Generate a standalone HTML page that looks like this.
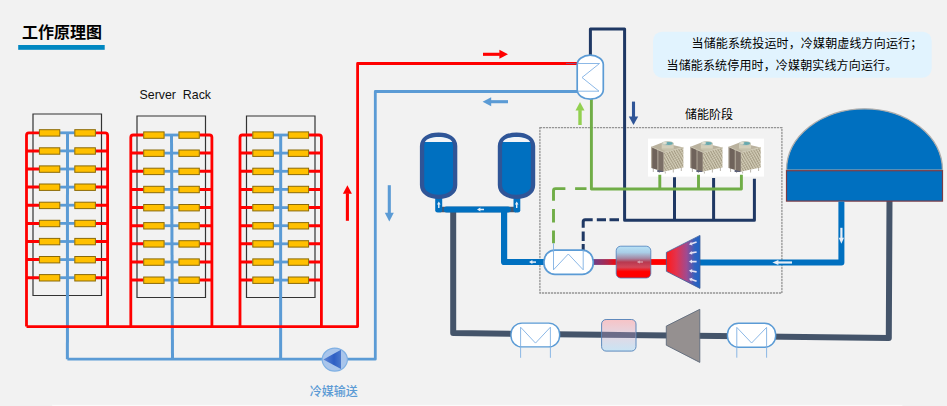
<!DOCTYPE html>
<html lang="zh-CN">
<head>
<meta charset="utf-8">
<title>工作原理图</title>
<style>
html,body{margin:0;padding:0;background:#f2f2f2;}
body{width:947px;height:406px;overflow:hidden;position:relative;font-family:"Liberation Sans","Noto Sans CJK SC",sans-serif;}
svg{position:absolute;left:0;top:0;display:block;}
text{font-family:"Liberation Sans","Noto Sans CJK SC",sans-serif;}
</style>
</head>
<body>
<svg width="947" height="406" viewBox="0 0 947 406">
<defs>
<linearGradient id="gHot" x1="0" y1="0" x2="0" y2="1">
<stop offset="0" stop-color="#b9e3f7"/><stop offset="0.2" stop-color="#a9cde6"/><stop offset="0.38" stop-color="#a58aa5"/><stop offset="0.5" stop-color="#b8384f"/><stop offset="0.66" stop-color="#d2485a"/><stop offset="0.8" stop-color="#ff0000"/><stop offset="1" stop-color="#ff0000"/>
</linearGradient>
<linearGradient id="gCool" x1="0" y1="0" x2="0" y2="1">
<stop offset="0" stop-color="#f7c3c6"/><stop offset="0.5" stop-color="#e3d8e4"/><stop offset="1" stop-color="#c9e4f4"/>
</linearGradient>
<linearGradient id="gTrap" x1="0" y1="0" x2="1" y2="0">
<stop offset="0" stop-color="#ff1a1a"/><stop offset="0.3" stop-color="#e2334f"/><stop offset="0.6" stop-color="#a04a90"/><stop offset="0.85" stop-color="#2f62c0"/><stop offset="1" stop-color="#1f63c4"/>
</linearGradient>
<linearGradient id="gRedPipe" x1="0" y1="0" x2="1" y2="0">
<stop offset="0" stop-color="#6a3f8a"/><stop offset="0.2" stop-color="#b0264a"/><stop offset="0.33" stop-color="#ff0000"/><stop offset="1" stop-color="#ff0000"/>
</linearGradient>
<linearGradient id="gPump" x1="0" y1="0" x2="1" y2="0">
<stop offset="0" stop-color="#5b85d6"/><stop offset="0.6" stop-color="#2f5fc4"/><stop offset="1" stop-color="#4a78cc"/>
</linearGradient>
<linearGradient id="gRack" x1="0" y1="0" x2="0" y2="1">
<stop offset="0" stop-color="#777"/><stop offset="1" stop-color="#333"/>
</linearGradient>
<pattern id="hatch" width="2.4" height="2.4" patternUnits="userSpaceOnUse" patternTransform="rotate(-30)">
<rect width="2.4" height="2.4" fill="#d3cdb7"/><rect width="0.9" height="2.4" fill="#a0977f"/><rect width="2.4" height="0.5" fill="#b3ab95"/>
</pattern>
</defs>

<text x="22" y="37.6" font-size="16" font-weight="bold" fill="#000">工作原理图</text>
<rect x="18.2" y="45" width="86.5" height="4.8" fill="#0087c1"/>
<text x="139.6" y="98.9" font-size="12.9" fill="#111" textLength="71.4" lengthAdjust="spacingAndGlyphs" xml:space="preserve">Server  Rack</text>
<path d="M33 114 H101.5 V295.5 H33 Z" fill="none" stroke="#333" stroke-width="1.2"/>
<path d="M67.5 132.8 L67.4 359.2" stroke="#5b9bd5" stroke-width="3" fill="none"/>
<path d="M60.1 132.8 H74.5" stroke="#5b9bd5" stroke-width="2.8" fill="none"/>
<path d="M60.1 150.9 H74.5" stroke="#5b9bd5" stroke-width="2.8" fill="none"/>
<path d="M60.1 169.0 H74.5" stroke="#5b9bd5" stroke-width="2.8" fill="none"/>
<path d="M60.1 187.1 H74.5" stroke="#5b9bd5" stroke-width="2.8" fill="none"/>
<path d="M60.1 205.2 H74.5" stroke="#5b9bd5" stroke-width="2.8" fill="none"/>
<path d="M60.1 223.4 H74.5" stroke="#5b9bd5" stroke-width="2.8" fill="none"/>
<path d="M60.1 241.5 H74.5" stroke="#5b9bd5" stroke-width="2.8" fill="none"/>
<path d="M60.1 259.6 H74.5" stroke="#5b9bd5" stroke-width="2.8" fill="none"/>
<path d="M60.1 277.7 H74.5" stroke="#5b9bd5" stroke-width="2.8" fill="none"/>
<path d="M26.5 150.9 H39.1 M95.7 150.9 H107.6 M26.5 169.0 H39.1 M95.7 169.0 H107.6 M26.5 187.1 H39.1 M95.7 187.1 H107.6 M26.5 205.2 H39.1 M95.7 205.2 H107.6 M26.5 223.4 H39.1 M95.7 223.4 H107.6 M26.5 241.5 H39.1 M95.7 241.5 H107.6 M26.5 259.6 H39.1 M95.7 259.6 H107.6 M26.5 277.7 H39.1 M95.7 277.7 H107.6 " stroke="#ff0000" stroke-width="3" fill="none"/>
<path d="M39.1 132.8 H28.9 Q26.5 132.8 26.5 135.2 V326.6 M95.7 132.8 H105.19999999999999 Q107.6 132.8 107.6 135.2 V326.6" stroke="#ff0000" stroke-width="2.8" fill="none"/>
<rect x="39.4" y="129.7" width="20.4" height="6.4" fill="#ffc000" stroke="#8a6a08" stroke-width="1"/>
<rect x="74.8" y="129.7" width="20.6" height="6.4" fill="#ffc000" stroke="#8a6a08" stroke-width="1"/>
<rect x="39.4" y="147.8" width="20.4" height="6.4" fill="#ffc000" stroke="#8a6a08" stroke-width="1"/>
<rect x="74.8" y="147.8" width="20.6" height="6.4" fill="#ffc000" stroke="#8a6a08" stroke-width="1"/>
<rect x="39.4" y="165.9" width="20.4" height="6.4" fill="#ffc000" stroke="#8a6a08" stroke-width="1"/>
<rect x="74.8" y="165.9" width="20.6" height="6.4" fill="#ffc000" stroke="#8a6a08" stroke-width="1"/>
<rect x="39.4" y="184.0" width="20.4" height="6.4" fill="#ffc000" stroke="#8a6a08" stroke-width="1"/>
<rect x="74.8" y="184.0" width="20.6" height="6.4" fill="#ffc000" stroke="#8a6a08" stroke-width="1"/>
<rect x="39.4" y="202.2" width="20.4" height="6.4" fill="#ffc000" stroke="#8a6a08" stroke-width="1"/>
<rect x="74.8" y="202.2" width="20.6" height="6.4" fill="#ffc000" stroke="#8a6a08" stroke-width="1"/>
<rect x="39.4" y="220.3" width="20.4" height="6.4" fill="#ffc000" stroke="#8a6a08" stroke-width="1"/>
<rect x="74.8" y="220.3" width="20.6" height="6.4" fill="#ffc000" stroke="#8a6a08" stroke-width="1"/>
<rect x="39.4" y="238.4" width="20.4" height="6.4" fill="#ffc000" stroke="#8a6a08" stroke-width="1"/>
<rect x="74.8" y="238.4" width="20.6" height="6.4" fill="#ffc000" stroke="#8a6a08" stroke-width="1"/>
<rect x="39.4" y="256.5" width="20.4" height="6.4" fill="#ffc000" stroke="#8a6a08" stroke-width="1"/>
<rect x="74.8" y="256.5" width="20.6" height="6.4" fill="#ffc000" stroke="#8a6a08" stroke-width="1"/>
<rect x="39.4" y="274.6" width="20.4" height="6.4" fill="#ffc000" stroke="#8a6a08" stroke-width="1"/>
<rect x="74.8" y="274.6" width="20.6" height="6.4" fill="#ffc000" stroke="#8a6a08" stroke-width="1"/>
<path d="M137 116 H205.5 V297.5 H137 Z" fill="none" stroke="#333" stroke-width="1.2"/>
<path d="M171.5 135.0 L172.5 359.2" stroke="#5b9bd5" stroke-width="3" fill="none"/>
<path d="M164.4 135.0 H178.6" stroke="#5b9bd5" stroke-width="2.8" fill="none"/>
<path d="M164.4 153.1 H178.6" stroke="#5b9bd5" stroke-width="2.8" fill="none"/>
<path d="M164.4 171.3 H178.6" stroke="#5b9bd5" stroke-width="2.8" fill="none"/>
<path d="M164.4 189.4 H178.6" stroke="#5b9bd5" stroke-width="2.8" fill="none"/>
<path d="M164.4 207.6 H178.6" stroke="#5b9bd5" stroke-width="2.8" fill="none"/>
<path d="M164.4 225.7 H178.6" stroke="#5b9bd5" stroke-width="2.8" fill="none"/>
<path d="M164.4 243.8 H178.6" stroke="#5b9bd5" stroke-width="2.8" fill="none"/>
<path d="M164.4 262.0 H178.6" stroke="#5b9bd5" stroke-width="2.8" fill="none"/>
<path d="M164.4 280.1 H178.6" stroke="#5b9bd5" stroke-width="2.8" fill="none"/>
<path d="M130.8 153.1 H143.4 M199.6 153.1 H211.9 M130.8 171.3 H143.4 M199.6 171.3 H211.9 M130.8 189.4 H143.4 M199.6 189.4 H211.9 M130.8 207.6 H143.4 M199.6 207.6 H211.9 M130.8 225.7 H143.4 M199.6 225.7 H211.9 M130.8 243.8 H143.4 M199.6 243.8 H211.9 M130.8 262.0 H143.4 M199.6 262.0 H211.9 M130.8 280.1 H143.4 M199.6 280.1 H211.9 " stroke="#ff0000" stroke-width="3" fill="none"/>
<path d="M143.4 135.0 H133.20000000000002 Q130.8 135.0 130.8 137.4 V326.6 M199.6 135.0 H209.5 Q211.9 135.0 211.9 137.4 V326.6" stroke="#ff0000" stroke-width="2.8" fill="none"/>
<rect x="143.7" y="131.9" width="20.4" height="6.4" fill="#ffc000" stroke="#8a6a08" stroke-width="1"/>
<rect x="178.9" y="131.9" width="20.4" height="6.4" fill="#ffc000" stroke="#8a6a08" stroke-width="1"/>
<rect x="143.7" y="150.0" width="20.4" height="6.4" fill="#ffc000" stroke="#8a6a08" stroke-width="1"/>
<rect x="178.9" y="150.0" width="20.4" height="6.4" fill="#ffc000" stroke="#8a6a08" stroke-width="1"/>
<rect x="143.7" y="168.2" width="20.4" height="6.4" fill="#ffc000" stroke="#8a6a08" stroke-width="1"/>
<rect x="178.9" y="168.2" width="20.4" height="6.4" fill="#ffc000" stroke="#8a6a08" stroke-width="1"/>
<rect x="143.7" y="186.3" width="20.4" height="6.4" fill="#ffc000" stroke="#8a6a08" stroke-width="1"/>
<rect x="178.9" y="186.3" width="20.4" height="6.4" fill="#ffc000" stroke="#8a6a08" stroke-width="1"/>
<rect x="143.7" y="204.5" width="20.4" height="6.4" fill="#ffc000" stroke="#8a6a08" stroke-width="1"/>
<rect x="178.9" y="204.5" width="20.4" height="6.4" fill="#ffc000" stroke="#8a6a08" stroke-width="1"/>
<rect x="143.7" y="222.6" width="20.4" height="6.4" fill="#ffc000" stroke="#8a6a08" stroke-width="1"/>
<rect x="178.9" y="222.6" width="20.4" height="6.4" fill="#ffc000" stroke="#8a6a08" stroke-width="1"/>
<rect x="143.7" y="240.7" width="20.4" height="6.4" fill="#ffc000" stroke="#8a6a08" stroke-width="1"/>
<rect x="178.9" y="240.7" width="20.4" height="6.4" fill="#ffc000" stroke="#8a6a08" stroke-width="1"/>
<rect x="143.7" y="258.9" width="20.4" height="6.4" fill="#ffc000" stroke="#8a6a08" stroke-width="1"/>
<rect x="178.9" y="258.9" width="20.4" height="6.4" fill="#ffc000" stroke="#8a6a08" stroke-width="1"/>
<rect x="143.7" y="277.0" width="20.4" height="6.4" fill="#ffc000" stroke="#8a6a08" stroke-width="1"/>
<rect x="178.9" y="277.0" width="20.4" height="6.4" fill="#ffc000" stroke="#8a6a08" stroke-width="1"/>
<path d="M246.5 116 H315 V297.5 H246.5 Z" fill="none" stroke="#333" stroke-width="1.2"/>
<path d="M280.7 135.0 L280.6 359.2" stroke="#5b9bd5" stroke-width="3" fill="none"/>
<path d="M273.6 135.0 H288" stroke="#5b9bd5" stroke-width="2.8" fill="none"/>
<path d="M273.6 153.1 H288" stroke="#5b9bd5" stroke-width="2.8" fill="none"/>
<path d="M273.6 171.3 H288" stroke="#5b9bd5" stroke-width="2.8" fill="none"/>
<path d="M273.6 189.4 H288" stroke="#5b9bd5" stroke-width="2.8" fill="none"/>
<path d="M273.6 207.6 H288" stroke="#5b9bd5" stroke-width="2.8" fill="none"/>
<path d="M273.6 225.7 H288" stroke="#5b9bd5" stroke-width="2.8" fill="none"/>
<path d="M273.6 243.8 H288" stroke="#5b9bd5" stroke-width="2.8" fill="none"/>
<path d="M273.6 262.0 H288" stroke="#5b9bd5" stroke-width="2.8" fill="none"/>
<path d="M273.6 280.1 H288" stroke="#5b9bd5" stroke-width="2.8" fill="none"/>
<path d="M240 153.1 H252.5 M308.9 153.1 H321.4 M240 171.3 H252.5 M308.9 171.3 H321.4 M240 189.4 H252.5 M308.9 189.4 H321.4 M240 207.6 H252.5 M308.9 207.6 H321.4 M240 225.7 H252.5 M308.9 225.7 H321.4 M240 243.8 H252.5 M308.9 243.8 H321.4 M240 262.0 H252.5 M308.9 262.0 H321.4 M240 280.1 H252.5 M308.9 280.1 H321.4 " stroke="#ff0000" stroke-width="3" fill="none"/>
<path d="M252.5 135.0 H242.4 Q240 135.0 240 137.4 V326.6 M308.9 135.0 H319.0 Q321.4 135.0 321.4 137.4 V326.6" stroke="#ff0000" stroke-width="2.8" fill="none"/>
<rect x="252.8" y="131.9" width="20.5" height="6.4" fill="#ffc000" stroke="#8a6a08" stroke-width="1"/>
<rect x="288.3" y="131.9" width="20.3" height="6.4" fill="#ffc000" stroke="#8a6a08" stroke-width="1"/>
<rect x="252.8" y="150.0" width="20.5" height="6.4" fill="#ffc000" stroke="#8a6a08" stroke-width="1"/>
<rect x="288.3" y="150.0" width="20.3" height="6.4" fill="#ffc000" stroke="#8a6a08" stroke-width="1"/>
<rect x="252.8" y="168.2" width="20.5" height="6.4" fill="#ffc000" stroke="#8a6a08" stroke-width="1"/>
<rect x="288.3" y="168.2" width="20.3" height="6.4" fill="#ffc000" stroke="#8a6a08" stroke-width="1"/>
<rect x="252.8" y="186.3" width="20.5" height="6.4" fill="#ffc000" stroke="#8a6a08" stroke-width="1"/>
<rect x="288.3" y="186.3" width="20.3" height="6.4" fill="#ffc000" stroke="#8a6a08" stroke-width="1"/>
<rect x="252.8" y="204.5" width="20.5" height="6.4" fill="#ffc000" stroke="#8a6a08" stroke-width="1"/>
<rect x="288.3" y="204.5" width="20.3" height="6.4" fill="#ffc000" stroke="#8a6a08" stroke-width="1"/>
<rect x="252.8" y="222.6" width="20.5" height="6.4" fill="#ffc000" stroke="#8a6a08" stroke-width="1"/>
<rect x="288.3" y="222.6" width="20.3" height="6.4" fill="#ffc000" stroke="#8a6a08" stroke-width="1"/>
<rect x="252.8" y="240.7" width="20.5" height="6.4" fill="#ffc000" stroke="#8a6a08" stroke-width="1"/>
<rect x="288.3" y="240.7" width="20.3" height="6.4" fill="#ffc000" stroke="#8a6a08" stroke-width="1"/>
<rect x="252.8" y="258.9" width="20.5" height="6.4" fill="#ffc000" stroke="#8a6a08" stroke-width="1"/>
<rect x="288.3" y="258.9" width="20.3" height="6.4" fill="#ffc000" stroke="#8a6a08" stroke-width="1"/>
<rect x="252.8" y="277.0" width="20.5" height="6.4" fill="#ffc000" stroke="#8a6a08" stroke-width="1"/>
<rect x="288.3" y="277.0" width="20.3" height="6.4" fill="#ffc000" stroke="#8a6a08" stroke-width="1"/>
<path d="M26.5 326.6 H357.6 V63.5 H578" stroke="#ff0000" stroke-width="2.8" fill="none" stroke-linejoin="round"/>
<path d="M67.4 359.2 H375.3 V91.5 H578" stroke="#5b9bd5" stroke-width="2.8" fill="none" stroke-linejoin="round"/>
<path d="M483.0 54.3 L499.9 54.3" stroke="#ff0000" stroke-width="3.1" fill="none"/>
<polygon points="508.0,54.3 499.4,58.8 499.4,49.8" fill="#ff0000"/>
<path d="M508.0 101.7 L490.7 101.7" stroke="#5b9bd5" stroke-width="3.1" fill="none"/>
<polygon points="482.6,101.7 491.2,97.2 491.2,106.2" fill="#5b9bd5"/>
<path d="M347.4 220.8 L347.4 193.3" stroke="#ff0000" stroke-width="3.1" fill="none"/>
<polygon points="347.4,185.2 351.9,193.8 342.9,193.8" fill="#ff0000"/>
<path d="M389.3 185.2 L389.3 213.3" stroke="#5b9bd5" stroke-width="3.1" fill="none"/>
<polygon points="389.3,221.4 384.8,212.8 393.8,212.8" fill="#5b9bd5"/>
<path d="M580.0 125.0 L580.0 110.1" stroke="#92d050" stroke-width="3.4" fill="none"/>
<polygon points="580.0,102.0 584.5,110.6 575.5,110.6" fill="#92d050"/>
<path d="M633.5 101.6 L633.5 117.1" stroke="#2f5597" stroke-width="3.1" fill="none"/>
<polygon points="633.5,125.0 628.8,116.6 638.2,116.6" fill="#2f5597"/>
<ellipse cx="334.8" cy="359.6" rx="12.6" ry="11.5" fill="#a9c5eb" stroke="#7fb0e3" stroke-width="1.2"/>
<polygon points="323.4,359.4 341,349.7 341,369" fill="url(#gPump)"/>
<text x="309.7" y="396.4" font-size="12" font-weight="500" fill="#5b9bd5">冷媒输送</text>
<rect x="539.9" y="127.7" width="242" height="165.3" fill="none" stroke="#959595" stroke-width="1.3" stroke-dasharray="2.2 0.8"/>
<text x="685" y="119" font-size="12" fill="#000">储能阶段</text>
<rect x="653" y="31.7" width="278.7" height="46" rx="9" ry="9" fill="#e1f3fe"/>
<text x="691.5" y="48" font-size="12" letter-spacing="0.15" fill="#000">当储能系统投运时，冷媒朝虚线方向运行；</text>
<text x="666.5" y="69.8" font-size="12" letter-spacing="0.15" fill="#000">当储能系统停用时，冷媒朝实线方向运行。</text>
<path d="M453.2 210 V333.1 L888.8 338 L889.5 200" stroke="#44546a" stroke-width="6" fill="none" stroke-linejoin="round"/>
<rect x="648" y="138.6" width="116" height="38" fill="#ffffff"/>
<g transform="translate(651.3 141)">
<path d="M2 27 V31 M8 29.5 V32 M14 30.5 V32.5 M22 28.5 V31.5 M30 26.5 V30" stroke="#b9b6ae" stroke-width="1"/>
<rect x="6" y="29" width="6" height="2" fill="#5a5f78"/>
<polygon points="0.1,5.8 11,1.5 32.1,6.4 12.6,11.3" fill="#bab29e"/>
<polygon points="0.1,5.8 6.6,8.5 6.6,29 0.1,27" fill="#6f635b"/>
<polygon points="6.6,8.5 12.6,11.3 12.6,30.5 6.6,29" fill="#7b6f66"/>
<path d="M0.4 6 V27 M6.6 8.5 V29 M12.6 11.3 V30.5" stroke="#b5ad9c" stroke-width="0.9" fill="none"/>
<polygon points="12.6,11.3 32.1,6.4 32.1,26.5 12.6,30.5" fill="url(#hatch)"/>
<path d="M0.1 5.8 L12.6 11.3 L32.1 6.4" stroke="#cfc9b6" stroke-width="0.9" fill="none"/>
<ellipse cx="16.4" cy="7.4" rx="6" ry="2.6" fill="#c6c1ab"/>
<rect x="10.4" y="2.6" width="12" height="4.8" fill="#d3ceb9"/>
<ellipse cx="16.4" cy="2.6" rx="6" ry="2.5" fill="#c4c9bc"/>
<ellipse cx="17.6" cy="2.5" rx="3.8" ry="1.4" fill="#67a9ae"/>
<ellipse cx="13.6" cy="2" rx="2.2" ry="1" fill="#e2dfd0"/>
</g>
<g transform="translate(690.4 141)">
<path d="M2 27 V31 M8 29.5 V32 M14 30.5 V32.5 M22 28.5 V31.5 M30 26.5 V30" stroke="#b9b6ae" stroke-width="1"/>
<rect x="6" y="29" width="6" height="2" fill="#5a5f78"/>
<polygon points="0.1,5.8 11,1.5 32.1,6.4 12.6,11.3" fill="#bab29e"/>
<polygon points="0.1,5.8 6.6,8.5 6.6,29 0.1,27" fill="#6f635b"/>
<polygon points="6.6,8.5 12.6,11.3 12.6,30.5 6.6,29" fill="#7b6f66"/>
<path d="M0.4 6 V27 M6.6 8.5 V29 M12.6 11.3 V30.5" stroke="#b5ad9c" stroke-width="0.9" fill="none"/>
<polygon points="12.6,11.3 32.1,6.4 32.1,26.5 12.6,30.5" fill="url(#hatch)"/>
<path d="M0.1 5.8 L12.6 11.3 L32.1 6.4" stroke="#cfc9b6" stroke-width="0.9" fill="none"/>
<ellipse cx="16.4" cy="7.4" rx="6" ry="2.6" fill="#c6c1ab"/>
<rect x="10.4" y="2.6" width="12" height="4.8" fill="#d3ceb9"/>
<ellipse cx="16.4" cy="2.6" rx="6" ry="2.5" fill="#c4c9bc"/>
<ellipse cx="17.6" cy="2.5" rx="3.8" ry="1.4" fill="#67a9ae"/>
<ellipse cx="13.6" cy="2" rx="2.2" ry="1" fill="#e2dfd0"/>
</g>
<g transform="translate(728.6 141)">
<path d="M2 27 V31 M8 29.5 V32 M14 30.5 V32.5 M22 28.5 V31.5 M30 26.5 V30" stroke="#b9b6ae" stroke-width="1"/>
<rect x="6" y="29" width="6" height="2" fill="#5a5f78"/>
<polygon points="0.1,5.8 11,1.5 32.1,6.4 12.6,11.3" fill="#bab29e"/>
<polygon points="0.1,5.8 6.6,8.5 6.6,29 0.1,27" fill="#6f635b"/>
<polygon points="6.6,8.5 12.6,11.3 12.6,30.5 6.6,29" fill="#7b6f66"/>
<path d="M0.4 6 V27 M6.6 8.5 V29 M12.6 11.3 V30.5" stroke="#b5ad9c" stroke-width="0.9" fill="none"/>
<polygon points="12.6,11.3 32.1,6.4 32.1,26.5 12.6,30.5" fill="url(#hatch)"/>
<path d="M0.1 5.8 L12.6 11.3 L32.1 6.4" stroke="#cfc9b6" stroke-width="0.9" fill="none"/>
<ellipse cx="16.4" cy="7.4" rx="6" ry="2.6" fill="#c6c1ab"/>
<rect x="10.4" y="2.6" width="12" height="4.8" fill="#d3ceb9"/>
<ellipse cx="16.4" cy="2.6" rx="6" ry="2.5" fill="#c4c9bc"/>
<ellipse cx="17.6" cy="2.5" rx="3.8" ry="1.4" fill="#67a9ae"/>
<ellipse cx="13.6" cy="2" rx="2.2" ry="1" fill="#e2dfd0"/>
</g>
<path d="M590.4 56 V29 H624.6 V220.3 H754.4 V178.8" stroke="#1f3864" stroke-width="3" fill="none" stroke-linejoin="round"/>
<path d="M674.5 177.2 V220.3 M713.6 178 V220.3" stroke="#1f3864" stroke-width="3" fill="none"/>
<path d="M619 219.8 H609.5 M606 219.8 H596.8 M592.7 219.8 H585.2 Q583.2 219.8 583.2 221.8 V227.8 M583.2 231.4 V240.9 M583.2 244.1 V250.5" stroke="#1f3864" stroke-width="3" fill="none"/>
<path d="M591.4 99 V189 H741.4 V174.8" stroke="#70ad47" stroke-width="2.9" fill="none" stroke-linejoin="round"/>
<path d="M659.8 174.8 V189 M698.5 174.8 V189" stroke="#70ad47" stroke-width="2.9" fill="none"/>
<path d="M586.5 188.6 H575.1 M565.4 188.6 H555.5 Q553.5 188.6 553.5 190.6 V200.7 M553.5 208.9 V222.4 M553.5 230.5 V243.3" stroke="#70ad47" stroke-width="2.9" fill="none"/>
<path d="M440 209.5 H516" stroke="#46566e" stroke-width="5.4" fill="none"/>
<rect x="435.2" y="196" width="7" height="16.6" rx="2.4" fill="#0070c0"/>
<rect x="513.5" y="196" width="6.8" height="16.6" rx="2.4" fill="#0070c0"/>
<path d="M446.6 209.5 H508" stroke="#0070c0" stroke-width="5.8" fill="none" stroke-linecap="round"/>
<path d="M504.1 209.4 V262 H545" stroke="#0070c0" stroke-width="6.2" fill="none" stroke-linejoin="round"/>
<path d="M422.05 146 C422.05 139,428.65 134.6,438.60 134.6 C448.55 134.6,455.15 139,455.15 146 V185 C455.15 192,448.55 196.9,438.60 196.9 C428.65 196.9,422.05 192,422.05 185 Z" fill="#0070c0" stroke="#2f5597" stroke-width="4.3"/>
<path d="M424.95 142 C427.55 135.2,449.65 135.2,452.25 142 Z" fill="#f2f4f7"/>
<path d="M499.95 146 C499.95 139,506.55 134.6,516.50 134.6 C526.45 134.6,533.05 139,533.05 146 V185 C533.05 192,526.45 196.9,516.50 196.9 C506.55 196.9,499.95 192,499.95 185 Z" fill="#0070c0" stroke="#2f5597" stroke-width="4.3"/>
<path d="M502.85 142 C505.45 135.2,527.55 135.2,530.15 142 Z" fill="#f2f4f7"/>
<path d="M786.5 170.2 A78 61.4 0 0 1 942.5 170.2 Z" fill="#0070c0" stroke="#adadad" stroke-width="1.3"/>
<rect x="786.5" y="170.7" width="156" height="30.4" fill="#0070c0" stroke="#7b3b45" stroke-width="1.2"/>
<path d="M841.4 201.5 V262.4 H699" stroke="#0070c0" stroke-width="6" fill="none" stroke-linejoin="round"/>
<rect x="593" y="259.1" width="74" height="5.8" fill="url(#gRedPipe)"/>
<rect x="616.2" y="246.2" width="34.6" height="31.8" rx="4.5" fill="url(#gHot)" stroke="#4a7ebb" stroke-width="0.8"/>
<polygon points="666.4,252.4 700,235.4 700,288.4 666.4,271.3" fill="url(#gTrap)" stroke="#3f5f9a" stroke-width="0.8"/>
<path d="M577.2 64.6 A13.05 9.4 0 0 1 603.3 64.6 V89.8 A13.05 9.4 0 0 1 577.2 89.8 Z" fill="#ffffff" stroke="#5b9bd5" stroke-width="1.7"/>
<path d="M577.5 63.5 H599.5 L582 77.5 L599 91.2 H577.5" fill="none" stroke="#7fb0e3" stroke-width="0.9"/>
<path d="M566 63.5 H576.5" stroke="#7a5a9a" stroke-width="0.8"/>
<rect x="544" y="250.2" width="49.2" height="24.2" rx="11" fill="#ffffff" stroke="#5b9bd5" stroke-width="1.7"/>
<path d="M553.5 243.3 V269.8 L568.3 254 L583.2 269.8 V250" fill="none" stroke="#7fb0e3" stroke-width="0.9"/>
<rect x="601.6" y="319.5" width="34.4" height="31.6" rx="4.5" fill="url(#gCool)" stroke="#4f80b8" stroke-width="0.9"/>
<path d="M602 334.75 L635.6 335.15" stroke="#4a4f70" stroke-width="5.8" opacity="0.78"/>
<polygon points="666.3,326.1 699.8,309.3 699.8,362.4 666.3,345.2" fill="#959090" stroke="#5f6b7c" stroke-width="0.9"/>
<rect x="511" y="323.1" width="48.6" height="23.8" rx="11" fill="#ffffff" stroke="#5b9bd5" stroke-width="1.4"/>
<path d="M520.6 357.8 V327.2 L535.5 343.1 L550.4 327.2 V357.8" fill="none" stroke="#7fb0e3" stroke-width="0.9"/>
<rect x="727.5" y="323.3" width="48.1" height="23.9" rx="11" fill="#ffffff" stroke="#5b9bd5" stroke-width="1.4"/>
<path d="M736.8 357.7 V327.4 L751.6 343.0 L766.6 327.4 V357.7" fill="none" stroke="#7fb0e3" stroke-width="0.9"/>
<path d="M792.0 262.5 L777.9 262.5" stroke="#e8eef6" stroke-width="2.2" fill="none"/>
<polygon points="772.4,262.5 778.4,259.9 778.4,265.1" fill="#e8eef6"/>
<path d="M841.4 227.8 L841.4 238.3" stroke="#e8eef6" stroke-width="2.2" fill="none"/>
<polygon points="841.4,243.8 838.8,237.8 844.0,237.8" fill="#e8eef6"/>
<path d="M484.0 209.5 L479.9 209.5" stroke="#e8eef6" stroke-width="1.5" fill="none"/>
<polygon points="477.0,209.5 480.4,207.5 480.4,211.5" fill="#e8eef6"/>
<path d="M536.0 262.1 L531.9 262.1" stroke="#e8eef6" stroke-width="1.5" fill="none"/>
<polygon points="529.0,262.1 532.4,260.1 532.4,264.1" fill="#e8eef6"/>
<path d="M438.8 208.0 L438.8 204.0" stroke="#e8eef6" stroke-width="1.4" fill="none"/>
<polygon points="438.8,201.5 440.6,204.5 437.0,204.5" fill="#e8eef6"/>
<path d="M516.7 208.0 L516.7 204.0" stroke="#e8eef6" stroke-width="1.4" fill="none"/>
<polygon points="516.7,201.5 518.5,204.5 514.9,204.5" fill="#e8eef6"/>
<path d="M643.0 262.0 L639.3 262.0" stroke="#d9a9b4" stroke-width="1.1" fill="none"/>
<polygon points="636.8,262.0 639.8,260.5 639.8,263.5" fill="#d9a9b4"/>
<path d="M696.6 242.0 L691.4 243.8" stroke="#e6e2f2" stroke-width="1.7" fill="none"/>
<polygon points="689.0,244.6 691.2,241.7 692.5,245.5" fill="#e6e2f2"/>
<path d="M696.6 252.0 L691.5 252.9" stroke="#e6e2f2" stroke-width="1.7" fill="none"/>
<polygon points="689.0,253.4 691.6,250.9 692.3,254.8" fill="#e6e2f2"/>
<path d="M696.6 261.6 L691.5 261.6" stroke="#e6e2f2" stroke-width="1.7" fill="none"/>
<polygon points="689.0,261.6 692.0,259.6 692.0,263.6" fill="#e6e2f2"/>
<path d="M696.6 271.9 L691.5 271.0" stroke="#e6e2f2" stroke-width="1.7" fill="none"/>
<polygon points="689.0,270.5 692.3,269.1 691.6,273.0" fill="#e6e2f2"/>
<path d="M696.6 281.3 L691.4 279.5" stroke="#e6e2f2" stroke-width="1.7" fill="none"/>
<polygon points="689.0,278.7 692.5,277.8 691.2,281.6" fill="#e6e2f2"/>
<rect x="52.2" y="404.8" width="850.2" height="1.2" fill="#fbfbfb"/>
</svg>
</body>
</html>
